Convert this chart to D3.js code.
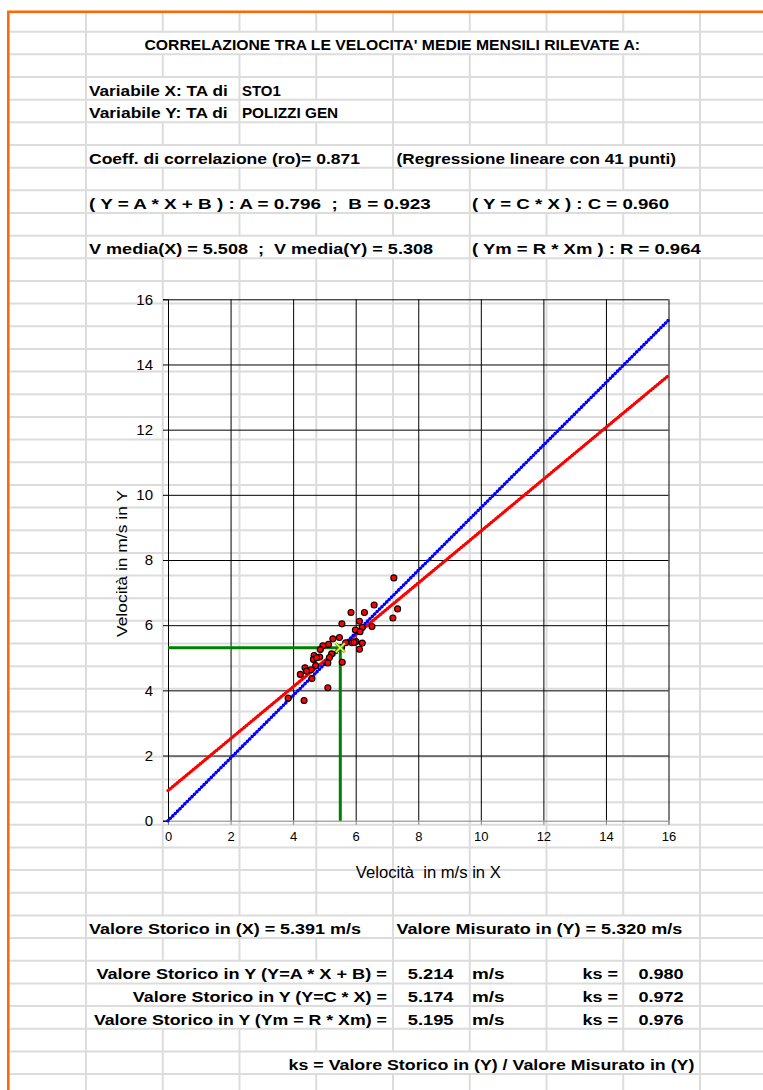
<!DOCTYPE html>
<html><head><meta charset="utf-8">
<script src="https://cdn.jsdelivr.net/npm/d3@7"></script>
<style>html,body{margin:0;padding:0;background:#fff;} svg{display:block;} text{white-space:pre;}</style>
</head><body><div id="chart"></div>
<script>
// ---------------- data ----------------
const titolo = "CORRELAZIONE TRA LE VELOCITA' MEDIE MENSILI RILEVATE A:";
const stazioneX = "STO1";
const stazioneY = "POLIZZI GEN";
const nPunti = 41;
const ro = 0.871;
const coefA = 0.796, coefB = 0.923, coefC = 0.960, coefR = 0.964;
const mediaX = 5.508, mediaY = 5.308;
const storicoX = 5.391, misuratoY = 5.320;
const metodi = ["(Y=A * X + B)", "(Y=C * X)", "(Ym = R * Xm)"];
const storicoY = [5.214, 5.174, 5.195];
const ksValori = [0.980, 0.972, 0.976];
const xTicks = [0, 2, 4, 6, 8, 10, 12, 14, 16];
const yTicks = [0, 2, 4, 6, 8, 10, 12, 14, 16];
const puntiX = [6.59, 5.85, 6.28, 5.56, 6.12, 6.21, 6.52, 5.99, 6.14, 5.27, 5.48, 5.13, 4.95, 5.68, 5.88, 6.01, 6.21, 6.12, 4.87, 5.23, 4.67, 4.85, 4.65, 5.16, 5.11, 4.72, 5.57, 4.38, 4.57, 4.43, 4.23, 4.60, 5.11, 3.84, 4.35, 7.22, 7.34, 7.19, 5.55, 5.95, 4.75];
const puntiY = [6.62, 6.39, 6.39, 6.04, 6.12, 5.93, 5.96, 5.85, 5.80, 5.58, 5.62, 5.41, 5.37, 5.46, 5.46, 5.50, 5.45, 5.26, 5.25, 5.12, 5.07, 5.02, 4.95, 5.01, 4.84, 4.76, 4.86, 4.69, 4.63, 4.59, 4.49, 4.36, 4.08, 3.76, 3.69, 7.45, 6.50, 6.22, 5.32, 5.47, 5.00];

// ---------------- layout ----------------
const W = 763, H = 1090;
const f3 = d3.format(".3f");
const svg = d3.select("#chart").append("svg").attr("width", W).attr("height", H)
  .style("font-family", "'Liberation Sans', Arial, sans-serif");
svg.append("rect").attr("width", W).attr("height", H).attr("fill", "#fff");

// spreadsheet geometry
const rowTop = 31.7, rowH = 22.66, nRows = 47;
const rowLines = d3.range(nRows).map(k => rowTop + k * rowH);
const colLines = d3.range(9).map(k => 86 + k * 76.75);
const rowCenter = k => rowTop + (k + 0.5) * rowH;

// text items (content from data, positions = layout)
const items = [
  {row: 0, x0: 144.5, x1: 640, t: titolo},
  {row: 2, x0: 89, x1: 227.7, t: "Variabile X: TA di"},
  {row: 2, x0: 241.9, x1: 280.8, t: stazioneX},
  {row: 3, x0: 89, x1: 227.7, t: "Variabile Y: TA di"},
  {row: 3, x0: 241.9, x1: 338.2, t: stazioneY},
  {row: 5, x0: 89, x1: 360, t: `Coeff. di correlazione (ro)= ${f3(ro)}`},
  {row: 5, x0: 396.6, x1: 676, t: `(Regressione lineare con ${nPunti} punti)`},
  {row: 7, x0: 89, x1: 430.7, t: `( Y = A * X + B ) : A = ${f3(coefA)}  ;  B = ${f3(coefB)}`},
  {row: 7, x0: 472, x1: 669, t: `( Y = C * X ) : C = ${f3(coefC)}`},
  {row: 9, x0: 89, x1: 433, t: `V media(X) = ${f3(mediaX)}  ;  V media(Y) = ${f3(mediaY)}`},
  {row: 9, x0: 472, x1: 700.7, t: `( Ym = R * Xm ) : R = ${f3(coefR)}`},
  {row: 39, x0: 89, x1: 361, t: `Valore Storico in (X) = ${f3(storicoX)} m/s`},
  {row: 39, x0: 396.6, x1: 682.2, t: `Valore Misurato in (Y) = ${f3(misuratoY)} m/s`},
  {row: 45, x0: 288.6, x1: 694.4, t: "ks = Valore Storico in (Y) / Valore Misurato in (Y)"}
];
const labelStarts = [96.4, 132.8, 93.9];
metodi.forEach((m, i) => {
  const r = 41 + i;
  items.push({row: r, x0: labelStarts[i], x1: 386.9, t: `Valore Storico in Y ${m} =`});
  items.push({row: r, x0: 407.8, x1: 453.5, t: f3(storicoY[i])});
  items.push({row: r, x0: 472, x1: 504.6, t: "m/s"});
  items.push({row: r, x0: 582.5, x1: 618, t: "ks ="});
  items.push({row: r, x0: 638.4, x1: 683.7, t: f3(ksValori[i])});
});

// grid: horizontal lines
const grid = svg.append("g").attr("stroke", "#dcdcdc").attr("stroke-width", 2);
grid.selectAll("line.h").data(rowLines).join("line").attr("class", "h")
  .attr("x1", 8).attr("x2", W).attr("y1", d => d).attr("y2", d => d);
// grid: vertical segments per row, hidden where text overflows
const bounds = [12, ...rowLines, H];
const segs = [];
for (let k = 0; k < bounds.length - 1; k++) {
  const row = k - 1;
  const spans = items.filter(it => it.row === row);
  colLines.forEach(x => {
    if (!spans.some(s => s.x0 < x && s.x1 > x)) segs.push({x, y1: bounds[k], y2: bounds[k + 1]});
  });
}
grid.selectAll("line.v").data(segs).join("line").attr("class", "v")
  .attr("x1", d => d.x).attr("x2", d => d.x).attr("y1", d => d.y1).attr("y2", d => d.y2);

// orange frame
svg.append("path").attr("d", `M8.3,${H} V11.7 H${W}`).attr("fill", "none")
  .attr("stroke", "#ff6600").attr("stroke-width", 2.5);

// texts
svg.append("g").selectAll("text").data(items).join("text")
  .attr("x", d => d.x0).attr("y", d => rowCenter(d.row) + 7.4)
  .attr("textLength", d => d.x1 - d.x0).attr("lengthAdjust", "spacingAndGlyphs")
  .attr("font-size", 15.5).attr("font-weight", "bold").attr("fill", "#000")
  .text(d => d.t);

// ---------------- chart ----------------
const x = d3.scaleLinear().domain([0, 16]).range([168, 668.5]);
const y = d3.scaleLinear().domain([0, 16]).range([820.7, 299.3]);
const plot = svg.append("g");

// gridlines
plot.append("g").attr("transform", `translate(${x(0)},0)`)
  .call(d3.axisLeft(y).tickValues(yTicks.filter(v => v > 0)).tickSize(-(x(16) - x(0))).tickFormat(""))
  .call(g => g.select(".domain").remove())
  .call(g => g.selectAll("line").attr("stroke", "#000"));
plot.append("g").attr("transform", `translate(0,${y(0)})`)
  .call(d3.axisBottom(x).tickValues(xTicks.filter(v => v > 0)).tickSize(-(y(0) - y(16))).tickFormat(""))
  .call(g => g.select(".domain").remove())
  .call(g => g.selectAll("line").attr("stroke", "#000"));

// y axis
plot.append("g").attr("transform", `translate(${x(0)},0)`)
  .call(d3.axisLeft(y).tickValues(yTicks).tickSize(5).tickPadding(10).tickFormat(d3.format("d")))
  .call(g => g.select(".domain").attr("stroke", "#000"))
  .call(g => g.selectAll(".tick line").attr("stroke", "#000"))
  .call(g => g.selectAll("text").attr("font-size", 15).attr("fill", "#000")
    .attr("font-family", "'Liberation Sans', Arial, sans-serif"));
// x axis
plot.append("g").attr("transform", `translate(0,${y(0)})`)
  .call(d3.axisBottom(x).tickValues(xTicks).tickSize(4).tickPadding(7).tickFormat(d3.format("d")))
  .call(g => g.select(".domain").attr("stroke", "#808080"))
  .call(g => g.selectAll(".tick line").attr("stroke", "#808080"))
  .call(g => g.selectAll("text").attr("font-size", 13).attr("fill", "#000")
    .attr("font-family", "'Liberation Sans', Arial, sans-serif"));

// axis titles
plot.append("text").attr("x", 355.8).attr("y", 878).attr("font-size", 16)
  .attr("textLength", 145).attr("lengthAdjust", "spacingAndGlyphs")
  .text("Velocità  in m/s in X");
plot.append("text").attr("transform", "translate(127,637) rotate(-90)").attr("font-size", 15.5)
  .attr("textLength", 147).attr("lengthAdjust", "spacingAndGlyphs")
  .text("Velocità in m/s in Y");

// green mean lines
plot.append("path")
  .attr("d", `M${x(0)},${y(mediaY)} H${x(mediaX)} V${y(0)}`)
  .attr("fill", "none").attr("stroke", "#008000").attr("stroke-width", 3);

// regression lines
const dom = [0, 16];
const lineGen = d3.line().x(d => x(d[0])).y(d => y(d[1]));
const redPts = dom.map(v => [v, coefA * v + coefB]);
const bluePts = dom.map(v => [v, coefC * v]);
plot.append("path").attr("d", lineGen(redPts)).attr("fill", "none")
  .attr("stroke", "#ff0000").attr("stroke-width", 2.6);
plot.append("path").attr("d", lineGen(redPts)).attr("fill", "none")
  .attr("stroke", "#ff0000").attr("stroke-width", 3.4).attr("stroke-linecap", "round")
  .attr("stroke-dasharray", "0 3");
plot.append("path").attr("d", lineGen(bluePts)).attr("fill", "none")
  .attr("stroke", "#4060ff").attr("stroke-width", 1.4);
plot.append("path").attr("d", lineGen(bluePts)).attr("fill", "none")
  .attr("stroke", "#0000ff").attr("stroke-width", 3.6).attr("stroke-linecap", "round")
  .attr("stroke-dasharray", "0 3.4");

// scatter points
plot.append("g").selectAll("circle").data(puntiX.map((v, i) => [v, puntiY[i]])).join("circle")
  .attr("cx", d => x(d[0])).attr("cy", d => y(d[1])).attr("r", 3)
  .attr("fill", "#ff0000").attr("stroke", "#000").attr("stroke-width", 1.1);

// mean marker X
const mk = plot.append("g").attr("transform", `translate(${x(mediaX)},${y(mediaY)})`);
mk.append("path").attr("d", "M-4.5,-4.5L4.5,4.5M-4.5,4.5L4.5,-4.5")
  .attr("stroke", "#6a9a00").attr("stroke-width", 3);
mk.append("path").attr("d", "M-4.5,-4.5L4.5,4.5M-4.5,4.5L4.5,-4.5")
  .attr("stroke", "#d8ff60").attr("stroke-width", 1.4);
</script>
</body></html>
